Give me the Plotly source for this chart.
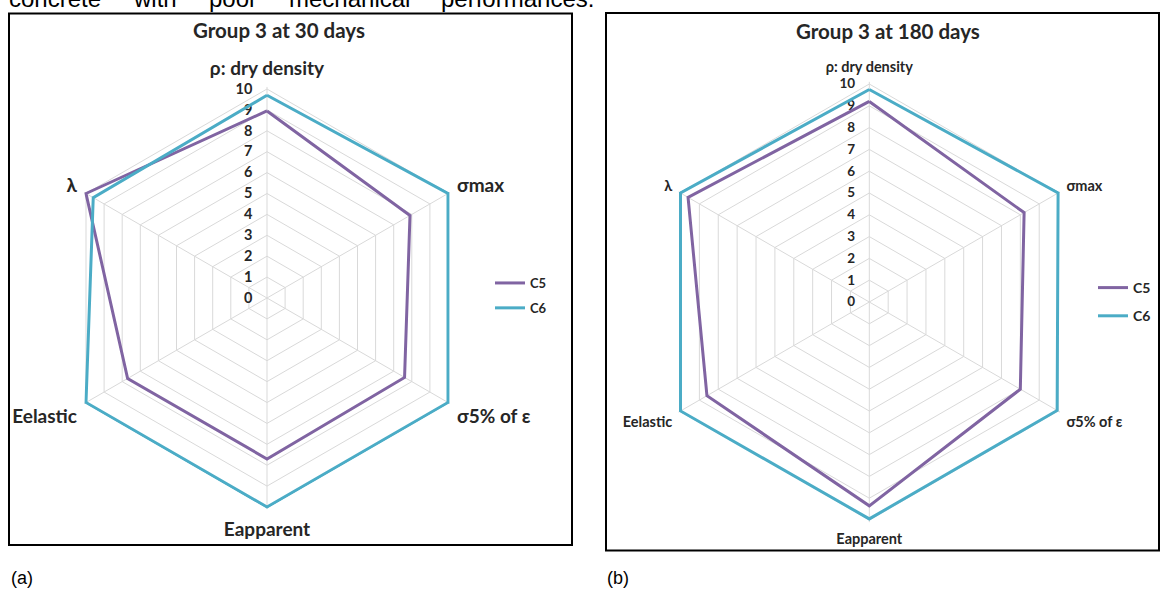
import plotly.graph_objects as go

categories = ["ρ: dry density", "σmax", "σ5% of ε", "Eapparent", "Eelastic", "λ"]
c5_30 = [8.95, 7.9, 7.6, 7.7, 7.7, 10.0]
c6_30 = [9.7, 10.0, 10.0, 10.0, 10.0, 9.6]
c5_180 = [9.2, 8.2, 8.0, 9.35, 8.6, 9.6]
c6_180 = [9.75, 10.0, 9.95, 9.95, 10.0, 10.0]
series_names = ["C5", "C6"]
colors = ["#8064a2", "#4bacc6"]
titles = ["Group 3 at 30 days", "Group 3 at 180 days"]
radial_ticks = list(range(0, 11))
r_max = 10
r_pad = 0.1

top_words = ["concrete", "with", "poor", "mechanical", "performances."]
top_word_x = [7, 131, 207, 287, 439]

W, H = 1160, 590

def closed(v):
    return v + v[:1]

fig = go.Figure()
for vals, name, col in zip([c5_30, c6_30], series_names, colors):
    fig.add_trace(go.Scatterpolar(r=closed(vals), theta=closed(categories), mode="lines",
                                  name=name, line=dict(color=col, width=3), subplot="polar",
                                  legend="legend", legendgroup="a" + name))
for vals, name, col in zip([c5_180, c6_180], series_names, colors):
    fig.add_trace(go.Scatterpolar(r=closed(vals), theta=closed(categories), mode="lines",
                                  name=name, line=dict(color=col, width=3), subplot="polar2",
                                  legend="legend2", legendgroup="b" + name))

grid = "#d9d9d9"
txt = "#262626"

def polar_cfg(cx, cy, rad10, lab_size, tick_size):
    rad = rad10 * (r_max + r_pad) / r_max
    return dict(
        domain=dict(x=[(cx - rad) / W, (cx + rad) / W], y=[(H - cy - rad) / H, (H - cy + rad) / H]),
        gridshape="linear",
        bgcolor="white",
        radialaxis=dict(range=[0, r_max + r_pad], tickvals=radial_ticks, ticks="outside", ticklen=9,
                        tickcolor="rgba(0,0,0,0)", showline=False, layer="below traces",
                        gridcolor=grid, gridwidth=1, angle=90, side="counterclockwise",
                        tickfont=dict(family="Lato", size=tick_size, color=txt, weight="bold"),
                        tickangle=90),
        angularaxis=dict(rotation=90, direction="clockwise", gridcolor=grid, showline=False,
                         ticks="outside", ticklen=4, tickcolor="rgba(0,0,0,0)",
                         layer="below traces",
                         tickfont=dict(family="Lato", size=lab_size, color=txt, weight="bold")),
    )

fig.update_layout(
    width=W, height=H, margin=dict(l=0, r=0, t=0, b=0),
    paper_bgcolor="white", plot_bgcolor="white",
    polar=polar_cfg(267, 298, 209, 19, 14.5),
    polar2=polar_cfg(869.3, 302, 218, 14.5, 13.5),
    legend=dict(x=490 / W, y=(H - 268) / H, xanchor="left", yanchor="top",
                font=dict(family="Lato", size=13, color=txt, weight="bold"),
                bgcolor="rgba(0,0,0,0)", itemwidth=30, tracegroupgap=5),
    legend2=dict(x=1093 / W, y=(H - 272) / H, xanchor="left", yanchor="top",
                 font=dict(family="Lato", size=14, color=txt, weight="bold"),
                 bgcolor="rgba(0,0,0,0)", itemwidth=30, tracegroupgap=7),
    showlegend=True,
)

shapes = [
    dict(type="rect", xref="paper", yref="paper", x0=9 / W, x1=572 / W,
         y0=1 - 545 / H, y1=1 - 13.5 / H, line=dict(color="black", width=2)),
    dict(type="rect", xref="paper", yref="paper", x0=606 / W, x1=1159 / W,
         y0=1 - 550.5 / H, y1=1 - 13 / H, line=dict(color="black", width=2)),
]
fig.update_layout(shapes=shapes)

ann = []
ann.append(dict(text=titles[0], x=279 / W, y=1 - 30 / H, xref="paper", yref="paper",
                showarrow=False, xanchor="center", yanchor="middle",
                font=dict(family="Lato", size=20.5, color=txt, weight="bold")))
ann.append(dict(text=titles[1], x=888 / W, y=1 - 31 / H, xref="paper", yref="paper",
                showarrow=False, xanchor="center", yanchor="middle",
                font=dict(family="Lato", size=20.5, color=txt, weight="bold")))
for w, x in zip(top_words, top_word_x):
    ann.append(dict(text=w, x=x / W, y=1 + 1 / H, xref="paper", yref="paper",
                    showarrow=False, xanchor="left", yanchor="middle",
                    font=dict(family="Liberation Sans", size=24, color="black")))
ann.append(dict(text="(a)", x=9 / W, y=1 - 578 / H, xref="paper", yref="paper", showarrow=False,
                xanchor="left", yanchor="middle", font=dict(family="Liberation Sans", size=18, color="black")))
ann.append(dict(text="(b)", x=605 / W, y=1 - 578 / H, xref="paper", yref="paper", showarrow=False,
                xanchor="left", yanchor="middle", font=dict(family="Liberation Sans", size=18, color="black")))
fig.update_layout(annotations=ann)

fig.write_html("out.html", config={"displayModeBar": False},
               post_script="document.body.style.margin='0';")
